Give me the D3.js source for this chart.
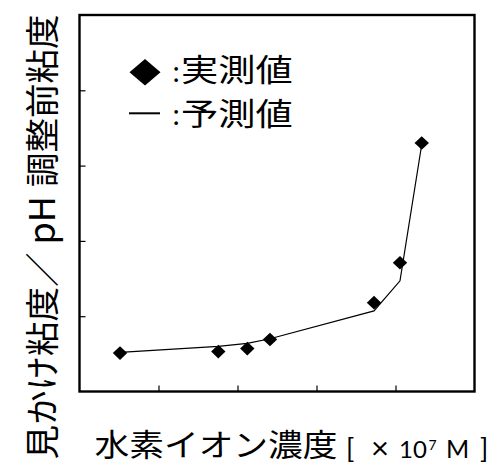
<!DOCTYPE html>
<html>
<head>
<meta charset="utf-8">
<script src="https://cdn.jsdelivr.net/npm/d3@7"></script>
<style>
  body { margin: 0; background: #fff; }
  svg { display: block; }
</style>
</head>
<body>
<svg id="chart" width="500" height="469"></svg>
<script>
// Measured points (◆) and predicted curve (—)
const measuredX = [0.513, 1.757, 2.124, 2.411, 3.728, 4.057, 4.332];
const measuredY = [0.51, 0.53, 0.57, 0.69, 1.18, 1.71, 3.30];
const predictedX = [0.513, 1.757, 2.124, 2.411, 3.728, 4.057, 4.332];
const predictedY = [0.52, 0.60, 0.64, 0.70, 1.07, 1.47, 3.28];
const xTicks = [1, 2, 3, 4];
const yTicks = [1, 2, 3, 4];
const xDomain = [0, 5];
const yDomain = [0, 5];

const yTitleParts = ["見かけ粘度／", "pH", "調整前粘度"];
const xTitle = "水素イオン濃度";
const legendLabels = ["実測値", "予測値"];

const cjk = "'Noto Sans CJK JP', 'Noto Sans CJK SC', sans-serif";
const latin = "Lato, 'Liberation Sans', sans-serif";

const svg = d3.select("#chart");
const plot = { left: 79.5, right: 474.5, top: 15, bottom: 391.5 };

const x = d3.scaleLinear().domain(xDomain).range([plot.left, plot.right]);
const y = d3.scaleLinear().domain(yDomain).range([plot.bottom, plot.top]);

// Inward ticks, no labels
const tickLen = 6;
svg.append("g")
  .attr("transform", `translate(0,${plot.bottom})`)
  .call(d3.axisBottom(x).tickValues(xTicks).tickSize(-tickLen).tickFormat(""))
  .call(g => g.select(".domain").remove())
  .call(g => g.selectAll("line").attr("stroke", "#000").attr("stroke-width", 1.2));

svg.append("g")
  .attr("transform", `translate(${plot.left},0)`)
  .call(d3.axisLeft(y).tickValues(yTicks).tickSize(-tickLen).tickFormat(""))
  .call(g => g.select(".domain").remove())
  .call(g => g.selectAll("line").attr("stroke", "#000").attr("stroke-width", 1.2));

// Frame
svg.append("rect")
  .attr("x", plot.left).attr("y", plot.top)
  .attr("width", plot.right - plot.left).attr("height", plot.bottom - plot.top)
  .attr("fill", "none").attr("stroke", "#000").attr("stroke-width", 2.4);

// Predicted curve
const line = d3.line().x(d => x(d[0])).y(d => y(d[1]));
svg.append("path")
  .datum(d3.zip(predictedX, predictedY))
  .attr("d", line)
  .attr("fill", "none").attr("stroke", "#000").attr("stroke-width", 1.2);

// Diamond marker path
const diamond = (w, h) => `M0,${-h}L${w},0L0,${h}L${-w},0Z`;

svg.append("g").selectAll("path")
  .data(d3.zip(measuredX, measuredY))
  .join("path")
  .attr("transform", d => `translate(${x(d[0])},${y(d[1])})`)
  .attr("d", diamond(7.2, 6.8))
  .attr("fill", "#000");

// Legend
const lg = svg.append("g");
lg.append("path").attr("transform", "translate(145,72.3)").attr("d", diamond(15.5, 13.3)).attr("fill", "#000");
lg.append("line").attr("x1", 129).attr("x2", 160).attr("y1", 113.3).attr("y2", 113.3)
  .attr("stroke", "#000").attr("stroke-width", 2);
[[82, 81, legendLabels[0]], [125, 125, legendLabels[1]]].forEach(([cy, by, lab]) => {
  lg.append("text").attr("x", 172.5).attr("y", cy)
    .attr("font-family", latin).attr("font-size", 29).text(":");
  lg.append("text").attr("transform", `translate(181,${by}) scale(1.2,1)`)
    .attr("font-family", cjk).attr("font-size", 31).text(lab);
});

// Y title (reads bottom to top)
const yt = svg.append("text")
  .attr("transform", "translate(55,459.5) rotate(-90)")
  .attr("font-family", cjk).attr("font-size", 34.5);
yt.append("tspan").text(yTitleParts[0]);
yt.append("tspan").attr("dx", 8).attr("font-size", 36).text(yTitleParts[1]);
yt.append("tspan").attr("dx", 9).text(yTitleParts[2]);

// X title
svg.append("text")
  .attr("transform", "translate(94.5,456) scale(1.12,1)")
  .attr("font-family", cjk).attr("font-size", 31)
  .text(xTitle);

// Unit: [ ×10^7 M ]
const unit = svg.append("text")
  .attr("y", 458)
  .attr("font-family", latin).attr("font-size", 25);
unit.append("tspan").attr("x", 346).attr("font-size", 27).text("[");
unit.append("tspan").attr("x", 371).attr("y", 459).attr("font-size", 31).text("×");
unit.append("tspan").attr("x", 399).attr("y", 458).attr("font-size", 24).text("10");
unit.append("tspan").attr("x", 428.5).attr("y", 450).attr("font-size", 14).text("7");
unit.append("tspan").attr("x", 446).attr("y", 458).text("M");
unit.append("tspan").attr("x", 480).attr("font-size", 27).text("]");
</script>
</body>
</html>
